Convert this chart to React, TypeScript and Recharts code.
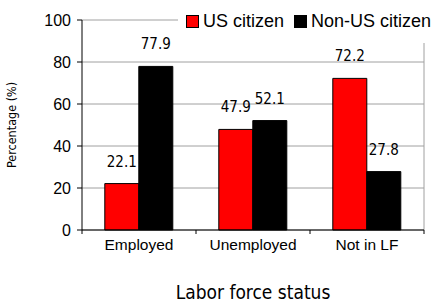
import { BarChart, Bar, XAxis, YAxis, CartesianGrid, LabelList } from 'recharts';

const categories = ['Employed', 'Unemployed', 'Not in LF'];
const usCitizen = [22.1, 47.9, 72.2];
const nonUsCitizen = [77.9, 52.1, 27.8];
const yTicks = [0, 20, 40, 60, 80, 100];

const data = categories.map((name, i) => ({
  name,
  us: usCitizen[i],
  nonUs: nonUsCitizen[i],
}));

const NARROW = '"DejaVu Sans Condensed", "Liberation Sans Narrow", sans-serif';
const SANS = '"Liberation Sans", Arial, sans-serif';

function CategoryTick(props: any) {
  const { x, y, payload, index, visibleTicksCount } = props;
  const off = payload.offset || 0;
  const last = index === visibleTicksCount - 1;
  return (
    <g>
      <line x1={x - off} x2={x - off} y1={230} y2={234} stroke="#000" />
      {last && <line x1={x + off} x2={x + off} y1={230} y2={234} stroke="#000" />}
      <text x={x} y={y} dy={12} textAnchor="middle" fontSize={15.5} fontFamily={SANS} fill="#000">
        {payload.value}
      </text>
    </g>
  );
}

// legend drawn in html on top of the chart, it also hides the top/right frame corner
function LegendBox() {
  const items = [
    { label: 'US citizen', color: '#FF0000', left: 8 },
    { label: 'Non-US citizen', color: '#000000', left: 116 },
  ];
  return (
    <div
      style={{
        position: 'absolute',
        left: 178,
        top: 4,
        width: 258,
        height: 39,
        background: '#fff',
        whiteSpace: 'nowrap',
      }}
    >
      {items.map((it) => (
        <div
          key={it.label}
          style={{ position: 'absolute', left: it.left, top: 7, display: 'flex', alignItems: 'center', height: 20 }}
        >
          <span
            style={{
              display: 'inline-block',
              width: 11,
              height: 11,
              background: it.color,
              border: '1px solid #000',
              marginRight: 4,
            }}
          />
          <span style={{ fontFamily: SANS, fontSize: 18, color: '#000', lineHeight: '20px' }}>{it.label}</span>
        </div>
      ))}
    </div>
  );
}

export default function App() {
  return (
    <div style={{ position: 'absolute', left: 0, top: 0, width: 436, height: 303, background: '#fff' }}>
      <BarChart
        width={436}
        height={303}
        data={data}
        margin={{ top: 20, right: 12, bottom: 0, left: 0 }}
        barCategoryGap="20%"
        barGap={0}
      >
        <CartesianGrid stroke="#A0A0A0" vertical={true} verticalPoints={[424]} horizontal={true} />
        <XAxis
          dataKey="name"
          height={73}
          axisLine={{ stroke: '#000' }}
          tickLine={false}
          tick={<CategoryTick />}
          interval={0}
          label={{
            value: 'Labor force status',
            position: 'insideBottom',
            offset: 4,
            style: { fontFamily: NARROW, fontSize: 19, fill: '#000' },
          }}
        />
        <YAxis
          width={82}
          domain={[0, 100]}
          ticks={yTicks}
          axisLine={{ stroke: '#000' }}
          tickLine={{ stroke: '#000' }}
          tickSize={5}
          tickMargin={6}
          tick={{ fontSize: 16, fontFamily: SANS, fill: '#000' }}
          label={{
            value: 'Percentage (%)',
            angle: -90,
            position: 'insideLeft',
            offset: 12,
            style: { fontFamily: NARROW, fontSize: 12.5, fill: '#000', textAnchor: 'middle' },
          }}
        />
        <Bar dataKey="us" name="US citizen" fill="#FF0000" stroke="#000" strokeWidth={1} isAnimationActive={false}>
          <LabelList dataKey="us" position="top" offset={17} style={{ fontFamily: NARROW, fontSize: 15, fill: '#000' }} />
        </Bar>
        <Bar dataKey="nonUs" name="Non-US citizen" fill="#000000" stroke="#000" strokeWidth={1} isAnimationActive={false}>
          <LabelList dataKey="nonUs" position="top" offset={17} style={{ fontFamily: NARROW, fontSize: 15, fill: '#000' }} />
        </Bar>
      </BarChart>
      <LegendBox />
    </div>
  );
}
